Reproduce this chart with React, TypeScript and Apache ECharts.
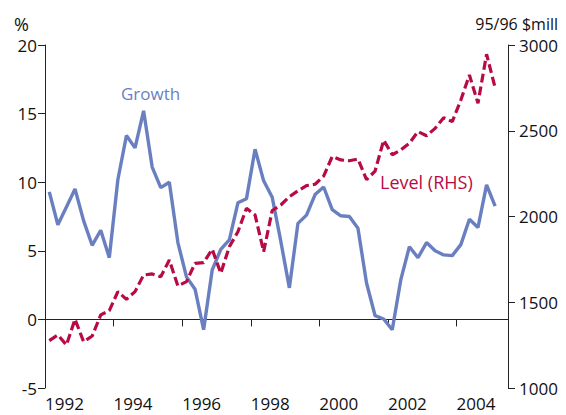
import React, { useEffect, useRef } from "react";
import * as echarts from "echarts";

// Quarterly observations, first quarter centred at 1992.125
const FIRST_QUARTER = 1992.125;
const QUARTER_STEP = 0.25;

const growth: number[] = [
  9.3, 6.9, 8.2, 9.5, 7.2, 5.4, 6.5, 4.5, 10.2, 13.4,
  12.5, 15.2, 11.1, 9.6, 10.0, 5.6, 3.1, 2.2, -0.75, 3.6,
  5.1, 5.8, 8.5, 8.8, 12.4, 10.1, 8.9, 5.7, 2.3, 7.0,
  7.6, 9.1, 9.65, 8.0, 7.55, 7.5, 6.65, 2.65, 0.27, 0.03,
  -0.75, 2.9, 5.3, 4.5, 5.6, 5.0, 4.7, 4.65, 5.45, 7.3,
  6.7, 9.8, 8.25,
];

const level: number[] = [
  1276, 1309, 1251, 1401, 1270, 1303, 1426, 1451, 1562, 1517,
  1562, 1659, 1665, 1649, 1746, 1595, 1620, 1727, 1731, 1809,
  1669, 1824, 1911, 2048, 2009, 1795, 2035, 2067, 2115, 2150,
  2180, 2188, 2235, 2350, 2330, 2325, 2335, 2215, 2265, 2445,
  2360, 2388, 2427, 2495, 2471, 2514, 2576, 2553, 2679, 2825,
  2660, 2946, 2751,
];

const leftTicks = { min: -5, max: 20, interval: 5 };
const rightTicks = { min: 1000, max: 3000, interval: 500 };
const xRange = { min: 1992, max: 2005.5, interval: 2 };

const BLUE = "#6a7fbf";
const RED = "#b80a45";
const FONT = "'Open Sans', 'Noto Sans', sans-serif";

export default function App() {
  const ref = useRef<HTMLDivElement>(null);
  useEffect(() => {
    if (!ref.current) return;
    const chart = echarts.init(ref.current, undefined, { renderer: "svg" });
    const toPairs = (arr: number[]) =>
      arr.map((v, i) => [FIRST_QUARTER + i * QUARTER_STEP, v]);
    const axisLine = { show: true, lineStyle: { color: "#222", width: 1 } };
    const labelStyle = { color: "#111", fontSize: 17, fontFamily: FONT };
    const tick = { show: true, length: 7, lineStyle: { color: "#222" } };
    chart.setOption({
      animation: false,
      backgroundColor: "#ffffff",
      grid: { left: 45, right: 58, top: 45, bottom: 27, containLabel: false },
      xAxis: {
        type: "value",
        min: xRange.min,
        max: xRange.max,
        interval: xRange.interval,
        axisLine,
        axisTick: tick,
        axisLabel: {
          ...labelStyle,
          margin: 7,
          align: "left",
          showMaxLabel: false,
          formatter: (v: number) => String(Math.round(v)),
        },
        splitLine: { show: false },
      },
      yAxis: [
        {
          type: "value",
          position: "left",
          min: leftTicks.min,
          max: leftTicks.max,
          interval: leftTicks.interval,
          axisLine,
          axisTick: tick,
          axisLabel: { ...labelStyle, margin: 8, formatter: (v: number) => String(v) },
          splitLine: { show: false },
        },
        {
          type: "value",
          position: "right",
          min: rightTicks.min,
          max: rightTicks.max,
          interval: rightTicks.interval,
          axisLine,
          axisTick: tick,
          axisLabel: { ...labelStyle, margin: 11, formatter: (v: number) => String(v) },
          splitLine: { show: false },
        },
      ],
      series: [
        {
          name: "Growth",
          type: "line",
          yAxisIndex: 0,
          data: toPairs(growth),
          showSymbol: false,
          lineStyle: { color: BLUE, width: 3.4 },
          z: 2,
        },
        {
          name: "Level (RHS)",
          type: "line",
          yAxisIndex: 1,
          data: toPairs(level),
          showSymbol: false,
          lineStyle: { color: RED, width: 3.2, type: [9, 4] },
          z: 3,
        },
      ],
      graphic: [
        {
          type: "text",
          x: 14,
          y: 24,
          style: { text: "%", fill: "#111", font: `18px ${FONT}`, verticalAlign: "middle" },
        },
        {
          type: "text",
          x: 558,
          y: 24,
          style: { text: "95/96 $mill", fill: "#111", font: `16px ${FONT}`, align: "right", verticalAlign: "middle" },
        },
        {
          type: "text",
          x: 121,
          y: 93,
          style: { text: "Growth", fill: BLUE, font: `17px ${FONT}`, verticalAlign: "middle" },
        },
        {
          type: "text",
          x: 380,
          y: 182,
          style: { text: "Level (RHS)", fill: RED, font: `18px ${FONT}`, verticalAlign: "middle" },
        },
      ],
    });
    return () => chart.dispose();
  }, []);
  return (
    <div
      ref={ref}
      style={{ position: "absolute", left: 0, top: 0, width: 566, height: 415 }}
    />
  );
}
